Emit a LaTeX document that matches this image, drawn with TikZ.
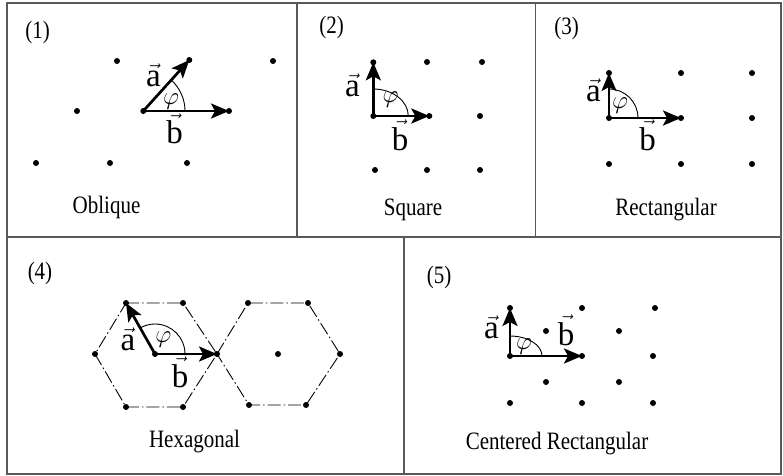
\documentclass[tikz,border=0pt]{standalone}
\usepackage{fontspec}
\setmainfont[FakeStretch=0.84]{Liberation Serif}
\newfontfamily\vecfont{Liberation Serif}
\usetikzlibrary{arrows.meta}
\tikzset{
 frameline/.style={draw=black!65, line width=1.2pt},
 pt/.style={circle, fill=black, inner sep=0pt, minimum size=6pt},
 vecarrow/.style={line width=2.7pt, -{Stealth[length=18pt,width=15pt,inset=4pt]}},
 anglearc/.style={line width=0.9pt},
 title/.style={font=\fontsize{25}{29}\selectfont, anchor=base, inner sep=0pt},
 vlabel/.style={font=\fontsize{33}{37}\selectfont, anchor=base, inner sep=0pt},
 philabel/.style={font=\fontsize{28}{32}\selectfont, inner sep=0pt},
 hexline/.style={line width=0.9pt, dash pattern=on 13pt off 3pt on 1.5pt off 3pt},
}
\newcommand{\vlab}[1]{$\vec{\hbox{\vecfont #1}}$}
\begin{document}
\begin{tikzpicture}[x=1pt,y=-1pt]
\useasboundingbox (0,0) rectangle (783,475);
% frames
\draw[frameline] (7,3) rectangle (781,474);
\draw[frameline] (7,237) -- (781,237);
\draw[frameline] (297,3) -- (297,237);
\draw[frameline] (535.5,3) -- (535.5,237);
\draw[frameline] (404,237) -- (404,474);

% ---------- Panel 1: Oblique
\node[title] (t1) at (37.5,38.5) {(1)};
\node[pt] (p1a) at (117,61) {};
\node[pt] (a1) at (189.3,60) {};
\node[pt] (p1c) at (273,61) {};
\node[pt] (p1d) at (77,111) {};
\node[pt] (o1) at (143.3,111) {};
\node[pt] (b1) at (229,111) {};
\node[pt] (p1f) at (36,163) {};
\node[pt] (p1g) at (110,163) {};
\node[pt] (p1h) at (187,163) {};
\draw[anglearc] (o1.center) ++(41.7,0) arc[start angle=0,end angle=-48,radius=41.7];
\draw[vecarrow] (o1.center) -- (a1.center);
\draw[vecarrow] (o1.center) -- (b1.center);
\node[vlabel] (la1) at (153.5,86.7) {\vlab{a}};
\node[vlabel] (lb1) at (174.5,143.3) {\vlab{b}};
\node[philabel] (f1) at (171,102) {$\varphi$};
\node[title] (n1) at (106.5,213) {Oblique};

% ---------- Panel 2: Square
\node[title] (t2) at (331.5,33) {(2)};
\node[pt] (o2) at (373.3,116) {};
\node[pt] (a2) at (373.3,62.3) {};
\node[pt] (b2) at (429.3,116) {};
\node[pt] (p2a) at (427,62) {};
\node[pt] (p2b) at (482,62) {};
\node[pt] (p2c) at (480,116) {};
\node[pt] (p2d) at (375,170) {};
\node[pt] (p2e) at (427,170) {};
\node[pt] (p2f) at (480,170) {};
\draw[anglearc] (o2.center) ++(35,0) arc[start angle=0,end angle=-90,x radius=35,y radius=27];
\draw[vecarrow] (o2.center) -- (a2.center);
\draw[vecarrow] (o2.center) -- (b2.center);
\node[vlabel] (la2) at (352.5,96.7) {\vlab{a}};
\node[vlabel] (lb2) at (400,150) {\vlab{b}};
\node[philabel] (f2) at (390.5,100) {$\varphi$};
\node[title] (n2) at (413,215) {Square};

% ---------- Panel 3: Rectangular
\node[title] (t3) at (566.5,34.5) {(3)};
\node[pt] (o3) at (609,118) {};
\node[pt] (a3) at (609,73) {};
\node[pt] (b3) at (681,118) {};
\node[pt] (p3a) at (681,73) {};
\node[pt] (p3b) at (752,73) {};
\node[pt] (p3c) at (752,118) {};
\node[pt] (p3d) at (609,164) {};
\node[pt] (p3e) at (681,164) {};
\node[pt] (p3f) at (752,164) {};
\draw[anglearc] (o3.center) ++(29,0) arc[start angle=0,end angle=-90,radius=29];
\draw[vecarrow] (o3.center) -- (a3.center);
\draw[vecarrow] (o3.center) -- (b3.center);
\node[vlabel] (la3) at (593.5,101.7) {\vlab{a}};
\node[vlabel] (lb3) at (647.5,150) {\vlab{b}};
\node[philabel] (f3) at (620,106) {$\varphi$};
\node[title] (n3) at (666,215) {Rectangular};

% ---------- Panel 4: Hexagonal
\node[title] (t4) at (40,279) {(4)};
\node[pt] (o4) at (155,354) {};
\node[pt] (a4) at (126,303) {};
\node[pt] (b4) at (217,354) {};
\node[pt] (h1) at (183,303) {};
\node[pt] (h2) at (183,407) {};
\node[pt] (h3) at (126,407) {};
\node[pt] (h4) at (95,354) {};
\node[pt] (k1) at (248,303) {};
\node[pt] (k2) at (308,303) {};
\node[pt] (k3) at (340,354) {};
\node[pt] (k4) at (306,405) {};
\node[pt] (k5) at (249,405) {};
\node[pt] (kc) at (278,354) {};
\draw[hexline] (a4.center) -- (h1.center) -- (b4.center) -- (h2.center) -- (h3.center) -- (h4.center) -- cycle;
\draw[hexline] (b4.center) -- (k1.center) -- (k2.center) -- (k3.center) -- (k4.center) -- (k5.center) -- cycle;
\draw[anglearc] (o4.center) ++(30,0) arc[start angle=0,end angle=-119.6,radius=30];
\draw[vecarrow] (o4.center) -- (a4.center);
\draw[vecarrow] (o4.center) -- (b4.center);
\node[vlabel] (la4) at (128,350) {\vlab{a}};
\node[vlabel] (lb4) at (180,387) {\vlab{b}};
\node[philabel] (f4) at (163.3,340) {$\varphi$};
\node[title] (n4) at (194.5,447.7) {Hexagonal};

% ---------- Panel 5: Centered Rectangular
\node[title] (t5) at (439,283) {(5)};
\node[pt] (o5) at (510,356) {};
\node[pt] (a5) at (510,308) {};
\node[pt] (b5) at (582,356) {};
\node[pt] (p5a) at (582,308) {};
\node[pt] (p5b) at (655,308) {};
\node[pt] (p5c) at (546,331) {};
\node[pt] (p5d) at (619,331) {};
\node[pt] (p5e) at (653,356) {};
\node[pt] (p5f) at (546,382) {};
\node[pt] (p5g) at (619,382) {};
\node[pt] (p5h) at (510,403) {};
\node[pt] (p5i) at (582,403) {};
\node[pt] (p5j) at (653,403) {};
\draw[anglearc] (o5.center) ++(32,0) arc[start angle=0,end angle=-90,x radius=32,y radius=20];
\draw[vecarrow] (o5.center) -- (a5.center);
\draw[vecarrow] (o5.center) -- (b5.center);
\node[vlabel] (la5) at (491.5,338) {\vlab{a}};
\node[vlabel] (lb5) at (566,345) {\vlab{b}};
\node[philabel] (f5) at (524,346.7) {$\varphi$};
\node[title] (n5) at (557,449) {Centered Rectangular};
\end{tikzpicture}
\end{document}
